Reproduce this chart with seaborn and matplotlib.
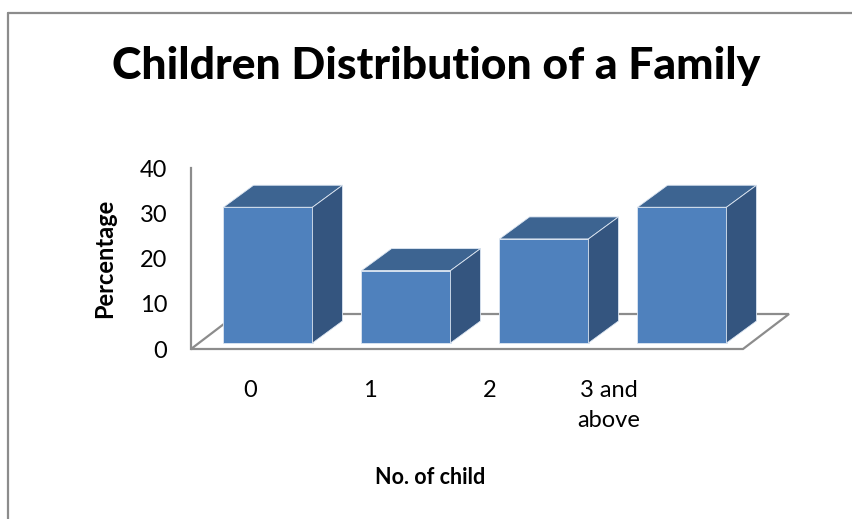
import matplotlib
matplotlib.use("Agg")
import matplotlib.pyplot as plt
import matplotlib.transforms as mtransforms
from matplotlib.patches import Polygon
import pandas as pd
import seaborn as sns

# data
categories = ["0", "1", "2", "3 and\nabove"]
percentages = [30, 16, 23, 30]
y_ticks = [0, 10, 20, 30, 40]

front_color = "#4F81BD"
top_color = "#3D6491"
side_color = "#34557F"
grid_gray = "#8C8C8C"

sns.set_theme(style="white")
plt.rcParams["font.family"] = ["Lato", "DejaVu Sans"]

W, H = 853, 519
fig = plt.figure(figsize=(W / 100, H / 100), dpi=100)
# front plane of the 3D plot area, in pixels
left_px, right_px, top_px, bottom_px = 191, 743, 168, 349
ax = fig.add_axes([left_px / W, 1 - bottom_px / H,
                   (right_px - left_px) / W, (bottom_px - top_px) / H])

df = pd.DataFrame({"child": categories, "pct": percentages})

# bars sit a little back from the front plane
bar_shift = mtransforms.offset_copy(ax.transData, fig=fig, x=8, y=6, units="dots")
sns.barplot(data=df, x="child", y="pct", color=front_color, width=0.645,
            saturation=1, ax=ax, zorder=3)
ax.set_xlim(-0.5, 3.5)
ax.set_ylim(0, 40)

px_x = (right_px - left_px) / 4.0
px_y = (bottom_px - top_px) / 40.0

# floor of the 3D plot
fdx, fdy = 46 / px_x, 35 / px_y
floor = Polygon([(-0.5, 0), (3.5, 0), (3.5 + fdx, fdy), (-0.5 + fdx, fdy)],
                closed=True, facecolor="white", edgecolor=grid_gray, lw=1.6,
                clip_on=False, zorder=1)
ax.add_patch(floor)

# depth faces of the bars
ddx, ddy = 30 / px_x, 22 / px_y
for p in ax.patches[:len(categories)]:
    if p is floor:
        continue
    x0 = p.get_x()
    x1 = x0 + p.get_width()
    h = p.get_height()
    p.set_transform(bar_shift)
    p.set_clip_on(False)
    p.set_edgecolor("#DCE6F2")
    p.set_linewidth(0.6)
    top = Polygon([(x0, h), (x1, h), (x1 + ddx, h + ddy), (x0 + ddx, h + ddy)],
                  closed=True, facecolor=top_color, edgecolor="#DCE6F2", lw=0.6,
                  transform=bar_shift, clip_on=False, zorder=3)
    side = Polygon([(x1, 0), (x1, h), (x1 + ddx, h + ddy), (x1 + ddx, ddy)],
                   closed=True, facecolor=side_color, edgecolor="#DCE6F2", lw=0.6,
                   transform=bar_shift, clip_on=False, zorder=3)
    ax.add_patch(top)
    ax.add_patch(side)

# axes styling
for s in ["top", "right", "bottom"]:
    ax.spines[s].set_visible(False)
ax.spines["left"].set_color(grid_gray)
ax.spines["left"].set_linewidth(1.6)
ax.set_yticks(y_ticks)
ax.set_yticklabels([str(t) for t in y_ticks], fontsize=17, color="black")
# category labels sit on a narrower spread than the bars (perspective)
label_pos = [(-10 + 119.7 * i) / px_x for i in range(len(categories))]
ax.set_xticks(label_pos)
ax.set_xticklabels(categories, fontsize=17, linespacing=1.55, color="black")
ax.tick_params(axis="y", length=0, pad=17)
ax.tick_params(axis="x", length=0, pad=22)
ax.set_xlabel("")
ax.set_ylabel("")

fig.text(105 / W, 1 - 258 / H, "Percentage", rotation=90, fontsize=17,
         fontweight="bold", ha="center", va="center", color="black")
fig.text(430 / W, 1 - 478 / H, "No. of child", fontsize=15.5,
         fontweight="bold", ha="center", va="center", color="black")
fig.text(436 / W, 1 - 66 / H, "Children Distribution of a Family", fontsize=32,
         fontweight="black", ha="center", va="center", color="black")

# chart area border (top and left edges visible)
fig.add_artist(plt.Line2D([8 / W, 8 / W], [0, 1 - 13 / H], color=grid_gray, lw=1.6))
fig.add_artist(plt.Line2D([8 / W, 1], [1 - 13 / H, 1 - 13 / H], color=grid_gray, lw=1.6))

fig.savefig("out.png", dpi=100)
